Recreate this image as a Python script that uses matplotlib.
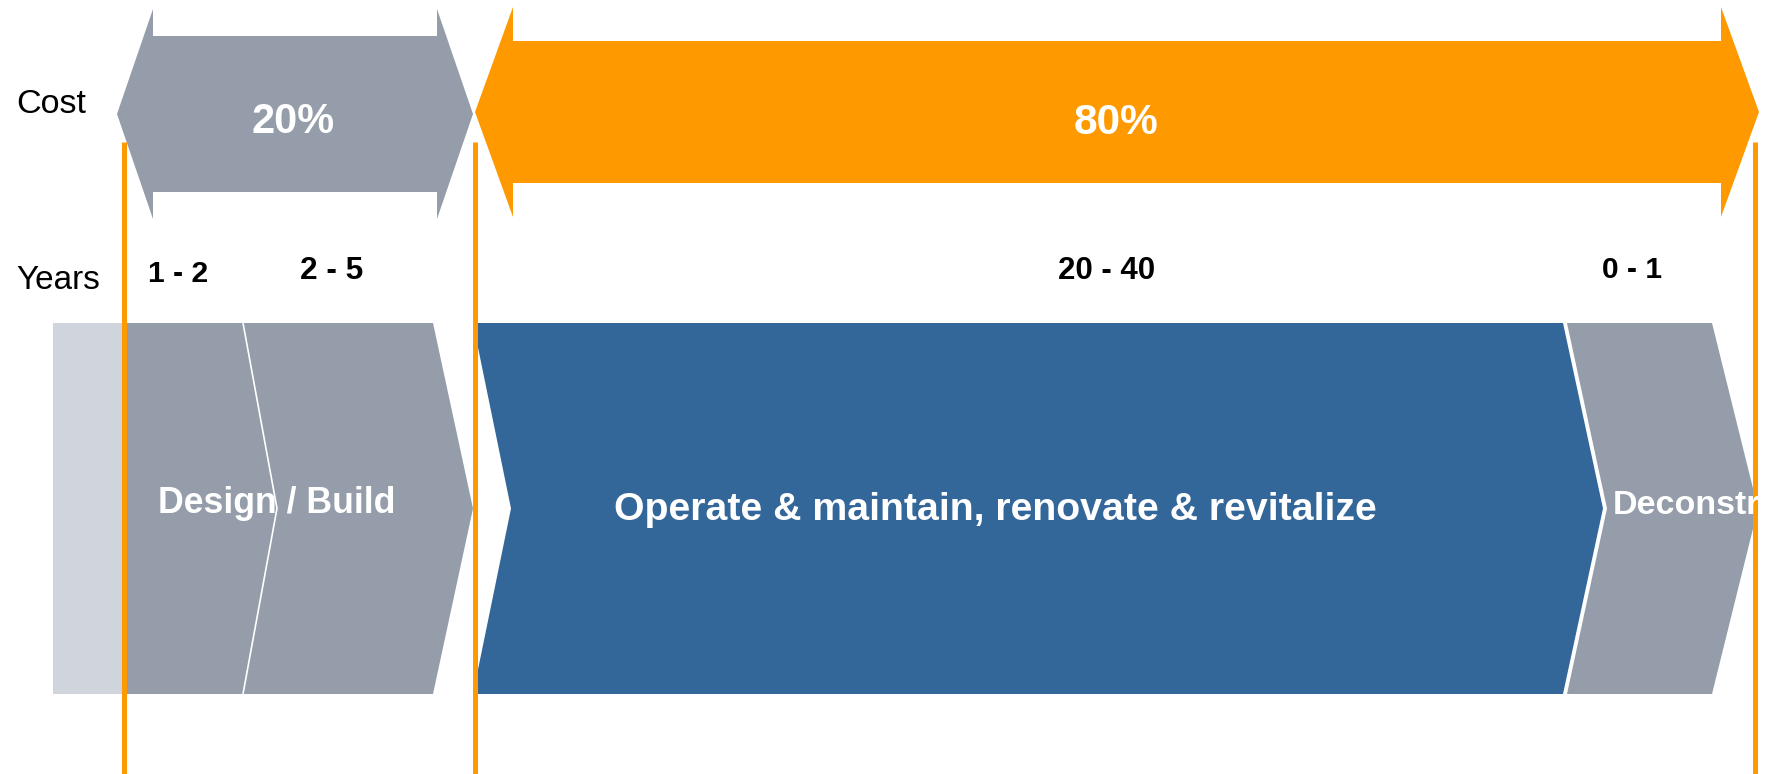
import matplotlib

matplotlib.use("Agg")
import matplotlib.pyplot as plt
from matplotlib.patches import Polygon, Rectangle

# Chart content
row_labels = ["Cost", "Years"]
cost_shares = ["20%", "80%"]
year_ranges = ["1 - 2", "2 - 5", "20 - 40", "0 - 1"]
phase_names = [
    "Design / Build",
    "Operate & maintain, renovate & revitalize",
    "Deconstruct",
]

# Colours
ORANGE = "#FF9900"
GREY = "#949DA9"
LIGHT_GREY = "#D0D4DC"
BLUE = "#336699"

FONT = ["Liberation Sans Narrow", "Liberation Sans", "DejaVu Sans"]

W, H = 1768, 774
fig = plt.figure(figsize=(W / 100, H / 100), dpi=100)
ax = fig.add_axes([0, 0, 1, 1])
ax.set_xlim(0, W)
ax.set_ylim(H, 0)
ax.axis("off")
renderer = fig.canvas.get_renderer()


def fitted_size(s, width, weight):
    """Font size (pt) that makes the string about `width` pixels wide."""
    t = ax.text(0, 0, s, fontsize=10, family=FONT, weight=weight)
    w = t.get_window_extent(renderer).width
    t.remove()
    return 10 * width / w


def label(s, x, cy, width, color="black", weight="bold", ha="center", size=None):
    """Place a text with its cap height centred on cy."""
    if size is None:
        size = fitted_size(s, width, weight)
    px = size * 100 / 72
    return ax.text(
        x, cy + 0.358 * px, s, fontsize=size, family=FONT, weight=weight,
        color=color, ha=ha, va="baseline", zorder=4,
    )


def double_arrow(x0, x1, head, cy, body_half, head_half, color):
    pts = [
        (x0, cy), (x0 + head, cy - head_half), (x0 + head, cy - body_half),
        (x1 - head, cy - body_half), (x1 - head, cy - head_half), (x1, cy),
        (x1 - head, cy + head_half), (x1 - head, cy + body_half),
        (x0 + head, cy + body_half), (x0 + head, cy + head_half),
    ]
    ax.add_patch(Polygon(pts, closed=True, facecolor=color, edgecolor="none", zorder=1))


def chevron(xl, xr, notch, point, top, bottom, color):
    mid = (top + bottom) / 2
    pts = [(xl, top), (xr, top), (xr + point, mid), (xr, bottom), (xl, bottom), (xl + notch, mid)]
    ax.add_patch(Polygon(pts, closed=True, facecolor=color, edgecolor="none", zorder=1))


# cost arrows
double_arrow(117, 473, 36, 114, 78, 105, GREY)
double_arrow(475, 1759, 38, 112, 71, 105, ORANGE)

# phase row
top, bottom = 323, 694
ax.add_patch(Rectangle((53, top), 75, bottom - top, facecolor=LIGHT_GREY, edgecolor="none", zorder=0))
chevron(122, 433, 0, 40, top, bottom, GREY)
ax.plot([243, 277, 243], [top, (top + bottom) / 2, bottom], color="white", lw=1.2, zorder=2)
chevron(473, 1563, 38, 40, top, bottom, BLUE)
chevron(1567, 1712, 40, 46, top, bottom, GREY)

# orange guide lines
for x in [123.5, 474.5, 1754.5]:
    ax.plot([x, x], [142, H], color=ORANGE, lw=3.6, solid_capstyle="butt", zorder=3)

# row labels
label(row_labels[0], 16, 101, 70, weight="normal", ha="left")
label(row_labels[1], 16, 277, 84, weight="normal", ha="left")

# cost shares
label(cost_shares[0], 293, 118, 83, color="white")
label(cost_shares[1], 1116, 119, 85, color="white")

# years
for s, x, cy, w in zip(year_ranges, [178, 332, 1107, 1632], [271, 268, 268, 267], [60, 63, 97, 60]):
    label(s, x, cy, w)

# phase names
label(phase_names[0], 277, 500, 239, color="white")
label(phase_names[1], 995, 506, 765, color="white")
dec_size = fitted_size("Deconstr", 147, "bold")
t = label(phase_names[2], 1613, 502, 0, color="white", ha="left", size=dec_size)
t.set_clip_path(Rectangle((0, 0), 1759, H, transform=ax.transData))

fig.savefig("out.png", dpi=100, facecolor="white")
